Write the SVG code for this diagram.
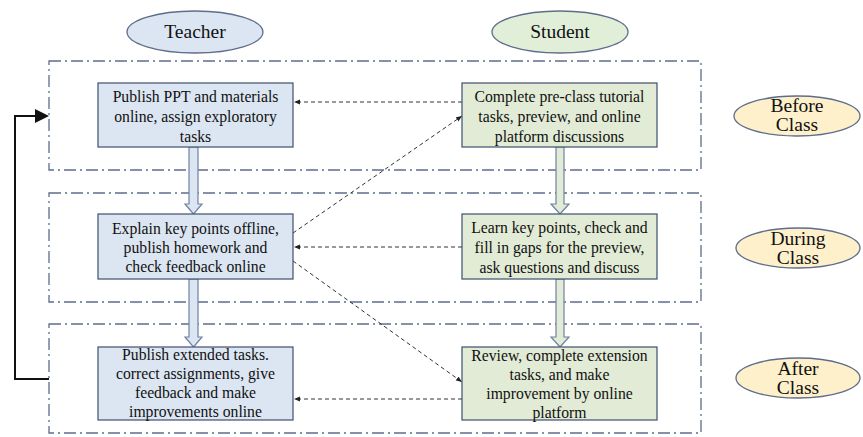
<svg xmlns="http://www.w3.org/2000/svg" width="863" height="437" viewBox="0 0 863 437">
  <style>
    .phase { fill: none; stroke: #5d6d8c; stroke-width: 1.3; stroke-dasharray: 12 4 2 4; }
    .tbox { fill: #dce6f2; stroke: #3f4f6e; stroke-width: 1.2; }
    .sbox { fill: #e1ebd6; stroke: #3f4f6e; stroke-width: 1.2; }
    .t { font-family: "Liberation Serif", "DejaVu Serif", serif; font-size: 15.7px; fill: #111; text-anchor: middle; }
    .h { font-family: "Liberation Serif", "DejaVu Serif", serif; font-size: 19.5px; fill: #111; text-anchor: middle; }
    .dash { fill: none; stroke: #333; stroke-width: 1; stroke-dasharray: 4 3; }
    .tarrow { fill: #dce6f2; stroke: #6f82a3; stroke-width: 1.2; }
    .sarrow { fill: #e1ebd6; stroke: #6f82a3; stroke-width: 1.2; }
  </style>
  <defs>
    <marker id="small" viewBox="0 0 10 10" refX="10" refY="5" markerWidth="6" markerHeight="6" orient="auto-start-reverse" markerUnits="userSpaceOnUse">
      <path d="M0,1 L10,5 L0,9 Z" fill="#222"/>
    </marker>
  </defs>

  <rect width="863" height="437" fill="#ffffff"/>

  <!-- phase frames -->
  <rect class="phase" x="49" y="61" width="652" height="109"/>
  <rect class="phase" x="49" y="193" width="652" height="109"/>
  <rect class="phase" x="49" y="324" width="652" height="109"/>

  <!-- column headers -->
  <g id="teacher">
    <ellipse cx="195" cy="32" rx="68" ry="21" fill="#dce6f2" stroke="#5d6d8c" stroke-width="1.3"/>
    <text class="h" x="195" y="38">Teacher</text>
  </g>
  <g id="student">
    <ellipse cx="560" cy="32" rx="68" ry="21" fill="#e1efd9" stroke="#5d6d8c" stroke-width="1.3"/>
    <text class="h" x="560" y="38">Student</text>
  </g>

  <!-- phase labels -->
  <g id="before-class">
    <ellipse cx="797" cy="116" rx="63" ry="20" fill="#fdf0cb" stroke="#5d6d8c" stroke-width="1.3"/>
    <text class="h" x="797" y="112">Before</text>
    <text class="h" x="797" y="131">Class</text>
  </g>
  <g id="during-class">
    <ellipse cx="798" cy="248" rx="62" ry="20" fill="#fdf0cb" stroke="#5d6d8c" stroke-width="1.3"/>
    <text class="h" x="798" y="245">During</text>
    <text class="h" x="798" y="264">Class</text>
  </g>
  <g id="after-class">
    <ellipse cx="798" cy="378" rx="62" ry="20" fill="#fdf0cb" stroke="#5d6d8c" stroke-width="1.3"/>
    <text class="h" x="798" y="375">After</text>
    <text class="h" x="798" y="394">Class</text>
  </g>

  <!-- connectors -->
  <g id="connectors">
    <!-- hollow flow arrows, teacher column -->
    <path class="tarrow" d="M189,147 L198,147 L198,204 L202,204 L193.5,214 L185,204 L189,204 Z"/>
    <path class="tarrow" d="M189,279 L198,279 L198,337 L202,337 L193.5,347 L185,337 L189,337 Z"/>
    <!-- hollow flow arrows, student column -->
    <path class="sarrow" d="M556,147 L564,147 L564,204 L569,204 L560,214 L551,204 L556,204 Z"/>
    <path class="sarrow" d="M556,279 L564,279 L564,337 L569,337 L560,347 L551,337 L556,337 Z"/>

    <!-- dashed interactions -->
    <line class="dash" x1="462" y1="102" x2="294" y2="102" marker-end="url(#small)"/>
    <line class="dash" x1="293" y1="233" x2="462" y2="116" marker-end="url(#small)"/>
    <line class="dash" x1="462" y1="247" x2="294" y2="247" marker-end="url(#small)"/>
    <line class="dash" x1="293" y1="261" x2="462" y2="382" marker-end="url(#small)"/>
    <line class="dash" x1="462" y1="399" x2="294" y2="399" marker-end="url(#small)"/>

    <!-- feedback loop back to the start -->
    <polyline points="49,379 15,379 15,116 36,116" fill="none" stroke="#111" stroke-width="2"/>
    <path d="M35,109 L49,116 L35,123 Z" fill="#111"/>
  </g>

  <!-- teacher steps -->
  <g id="t1">
    <rect class="tbox" x="98" y="83" width="195" height="64"/>
    <text class="t" x="195.5" y="102">Publish PPT and materials</text>
    <text class="t" x="195.5" y="122">online, assign exploratory</text>
    <text class="t" x="195.5" y="142">tasks</text>
  </g>
  <g id="t2">
    <rect class="tbox" x="98" y="214" width="195" height="65"/>
    <text class="t" x="195.5" y="234">Explain key points offline,</text>
    <text class="t" x="195.5" y="253">publish homework and</text>
    <text class="t" x="195.5" y="272">check feedback online</text>
  </g>
  <g id="t3">
    <rect class="tbox" x="98" y="347" width="195" height="73"/>
    <text class="t" x="195.5" y="360">Publish extended tasks.</text>
    <text class="t" x="195.5" y="379">correct assignments, give</text>
    <text class="t" x="195.5" y="398">feedback and make</text>
    <text class="t" x="195.5" y="417">improvements online</text>
  </g>

  <!-- student steps -->
  <g id="s1">
    <rect class="sbox" x="462" y="83" width="195" height="64"/>
    <text class="t" x="559.5" y="102">Complete pre-class tutorial</text>
    <text class="t" x="559.5" y="122">tasks, preview, and online</text>
    <text class="t" x="559.5" y="142">platform discussions</text>
  </g>
  <g id="s2">
    <rect class="sbox" x="462" y="214" width="195" height="65"/>
    <text class="t" x="559.5" y="233">Learn key points, check and</text>
    <text class="t" x="559.5" y="253">fill in gaps for the preview,</text>
    <text class="t" x="559.5" y="273">ask questions and discuss</text>
  </g>
  <g id="s3">
    <rect class="sbox" x="462" y="347" width="195" height="73"/>
    <text class="t" x="559.5" y="361">Review, complete extension</text>
    <text class="t" x="559.5" y="380">tasks, and make</text>
    <text class="t" x="559.5" y="399">improvement by online</text>
    <text class="t" x="559.5" y="418">platform</text>
  </g>
</svg>
